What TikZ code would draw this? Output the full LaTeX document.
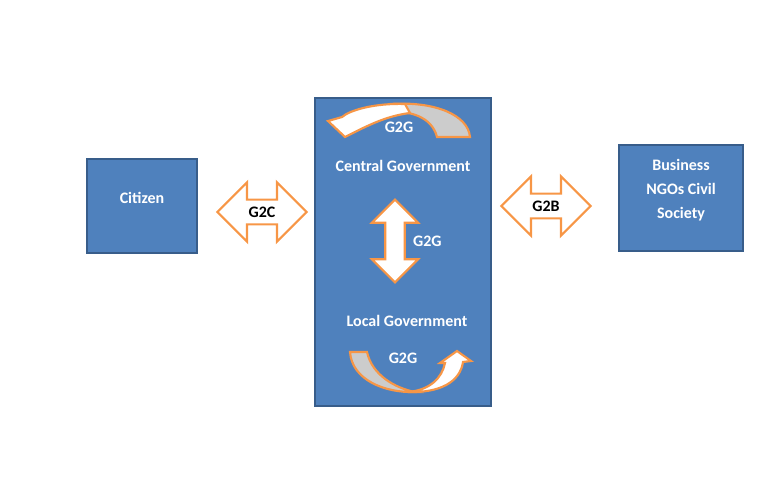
\documentclass[tikz,border=0pt]{standalone}
\usepackage{fontspec}
\setmainfont{Carlito}
\usetikzlibrary{shapes.arrows,positioning}
\definecolor{boxblue}{HTML}{4F81BD}
\definecolor{boxline}{HTML}{385D8A}
\definecolor{arrorange}{HTML}{F79646}
\definecolor{bandgray}{HTML}{CCCCCC}
\begin{document}
\begin{tikzpicture}[x=0.75pt,y=-0.75pt,
    block/.style={rectangle, draw=boxline, line width=1.5pt, fill=boxblue},
    dblarrow/.style={double arrow, draw=arrorange, line width=1.6pt, fill=white, double arrow head extend=13pt, inner sep=4.5pt, font=\bfseries\fontsize{12}{15}\selectfont},
    band/.style={draw=arrorange, line width=1.6pt},
    lbl/.style={text=white, font=\bfseries\fontsize{12}{18}\selectfont}]
    \useasboundingbox (0,0) rectangle (777,490);

    \node[block, minimum width=82.5pt, minimum height=71pt] (citizen) at (142,206) {};
    \node[lbl] at (142,198) {Citizen};
    \node[block, minimum width=132pt, minimum height=231pt] (govt) at (403,252) {};
    \node[block, minimum width=93pt, minimum height=79pt] (business) at (681,198) {};
    \node[lbl, align=center] at (681,190) {Business\\NGOs Civil\\Society};

    \node[dblarrow, minimum height=67pt] (g2c) at (262,212) {G2C};
    \node[dblarrow, minimum height=67pt] (g2b) at (546,206) {G2B};
    \node[dblarrow, shape border rotate=90, inner sep=6.5pt, double arrow head extend=10pt, minimum height=62pt] (g2gv) at (395,241) {};
    \node[lbl, right=2pt of g2gv] {G2G};

    \node[lbl] (central) at (403,166) {Central Government};
    \node[lbl] (local) at (407,321) {Local Government};

    % top curved arrow
    \draw[band, fill=bandgray] (390,104) .. controls (435,101) and (468,115) .. (470,137)
        -- (437,137) .. controls (432,117) and (410,109) .. (380,112) -- cycle;
    \draw[band, fill=white] (405,104) .. controls (375,103) and (350,110) .. (342,117)
        -- (328,121) -- (345,137) .. controls (365,127) and (385,116) .. (410,113) -- cycle;
    \node[lbl] at (399,127) {G2G};

    % bottom curved arrow
    \draw[band, fill=bandgray] (350,352) -- (367,352) .. controls (372,375) and (395,388) .. (415,392)
        .. controls (385,393) and (352,380) .. (350,352) -- cycle;
    \draw[band, fill=white] (408,392) .. controls (430,390) and (442,378) .. (445,363)
        -- (440,363) -- (457,351) -- (471,361) -- (463,362)
        .. controls (460,382) and (440,393) .. (408,392) -- cycle;
    \node[lbl] at (403,358) {G2G};
\end{tikzpicture}
\end{document}
